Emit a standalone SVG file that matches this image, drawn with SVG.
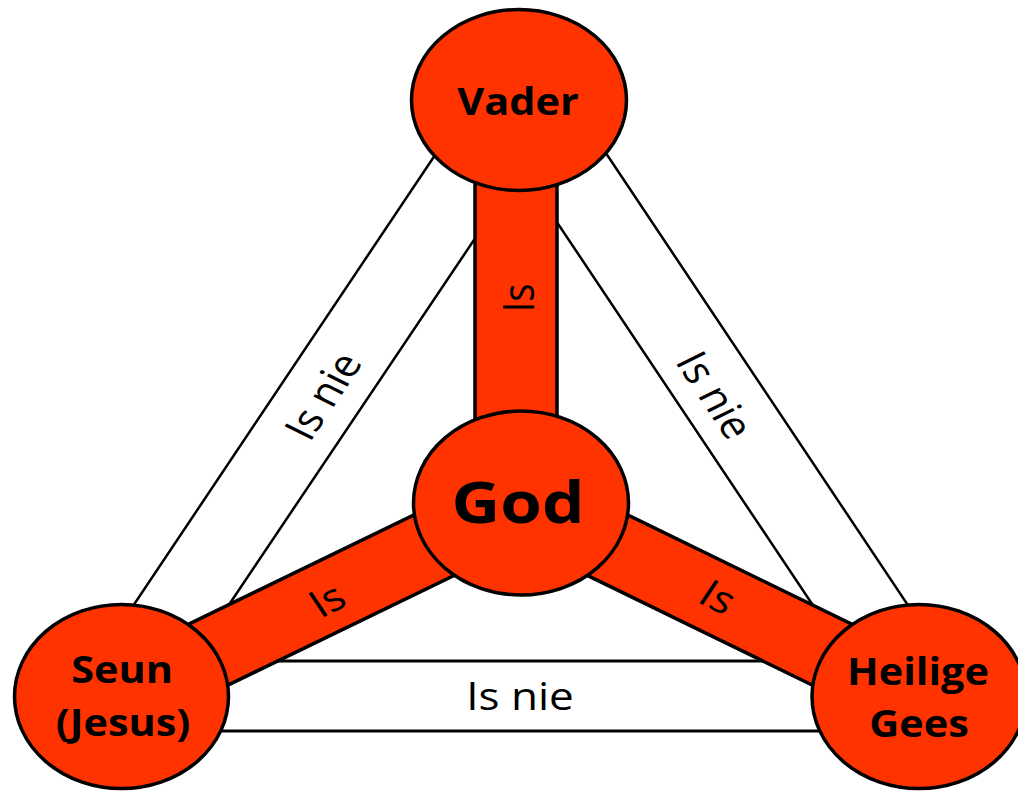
<svg xmlns="http://www.w3.org/2000/svg" width="1018" height="793" viewBox="0 0 1018 793">
<style>
.band{fill:#fff;stroke:#000;stroke-width:2.5}
.bar{fill:#FF3300;stroke:#000;stroke-width:3.5;stroke-linejoin:miter}
.node{fill:#FF3300;stroke:#000;stroke-width:3.5}
.lbl{font-family:"Open Sans","DejaVu Sans",sans-serif;font-weight:bold;font-size:37px;fill:#000;text-anchor:middle}
.big{font-size:58px}
.rel{font-family:"Open Sans","DejaVu Sans",sans-serif;font-size:38px;fill:#000;text-anchor:middle}
</style>
<rect width="1018" height="793" fill="#fff"/>
<g id="connectors">
  <polygon class="band" points="492,70 76.7,690 144.8,730 561.3,110"/>
  <polygon class="band" points="550.4,70 964.6,690 896.2,730 482,110"/>
  <rect class="band" style="stroke-width:3" x="150" y="661" width="740" height="70"/>
  <rect class="bar" x="475" y="100" width="82" height="403"/>
  <polygon class="bar" points="105.3,664.6 505.3,470.6 536.7,535.4 136.7,729.4"/>
  <polygon class="bar" points="536.8,470.6 934.8,664.6 903.2,729.4 505.2,535.4"/>
  <text class="rel" transform="translate(323,396) scale(1.16,1) rotate(-60)" x="0" y="13.5">Is nie</text>
  <text class="rel" transform="translate(715,395) scale(1.16,1) rotate(60)" x="0" y="13.5">Is nie</text>
  <text class="rel" transform="translate(520,710) scale(1.16,1)" x="0" y="0">Is nie</text>
  <text class="rel" transform="translate(518,298) scale(1.16,1) rotate(-90)" x="0" y="13.5">Is</text>
  <text class="rel" transform="translate(327,600) scale(1.16,1) rotate(-30)" x="0" y="13.5">Is</text>
  <text class="rel" transform="translate(718,597) scale(1.16,1) rotate(30)" x="0" y="13.5">Is</text>
</g>
<g id="vader">
  <ellipse class="node" cx="519" cy="100" rx="107.5" ry="90.5"/>
  <text class="lbl" transform="translate(518,115) scale(1.12,1)">Vader</text>
</g>
<g id="god">
  <ellipse class="node" cx="521" cy="503" rx="107.5" ry="92"/>
  <text class="lbl big" transform="translate(518,523) scale(1.16,1)">God</text>
</g>
<g id="seun">
  <ellipse class="node" cx="121.5" cy="696.5" rx="107" ry="92"/>
  <text class="lbl" transform="translate(122,683) scale(1.12,1)">Seun</text>
  <text class="lbl" transform="translate(123,736) scale(1.12,1)">(Jesus)</text>
</g>
<g id="heilige-gees">
  <ellipse class="node" cx="919" cy="696.5" rx="107" ry="92"/>
  <text class="lbl" transform="translate(918,685) scale(1.12,1)">Heilige</text>
  <text class="lbl" transform="translate(919,737) scale(1.12,1)">Gees</text>
</g>
</svg>
